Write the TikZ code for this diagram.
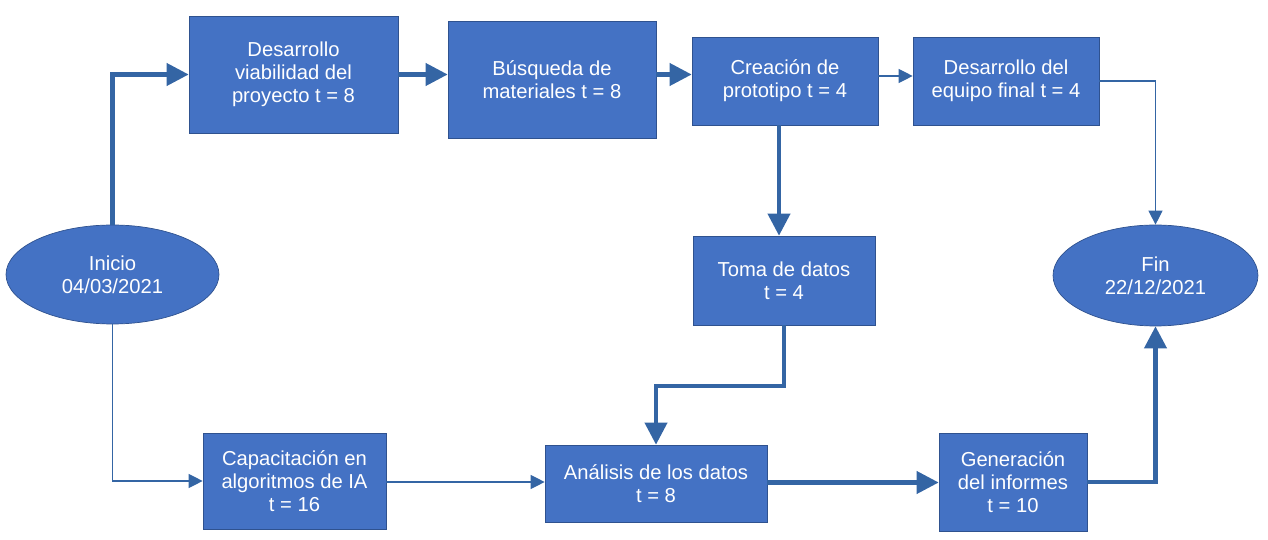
\documentclass[tikz,border=0pt]{standalone}
\usepackage{fontspec}
\setmainfont{Liberation Sans}
\usepackage{tikz}
\usetikzlibrary{shapes.geometric, arrows.meta}
\definecolor{boxfill}{HTML}{4472C4}
\definecolor{boxline}{HTML}{2F528F}
\definecolor{linkblue}{HTML}{3465A4}
\tikzstyle{startstop} = [ellipse, draw=boxline, fill=boxfill, text=white, align=center, inner sep=0pt, font=\fontsize{11.5}{13}\selectfont]
\tikzstyle{process} = [rectangle, draw=boxline, fill=boxfill, text=white, align=center, inner sep=0pt, font=\fontsize{11.5}{13}\selectfont]
\tikzstyle{thickarrow} = [line width=2.3pt, draw=linkblue, -{Triangle[length=0.44cm, width=0.44cm]}]
\tikzstyle{thinarrow} = [line width=0.7pt, draw=linkblue, -{Triangle[length=0.28cm, width=0.28cm]}]

\begin{document}
\begin{tikzpicture}[x=0.02cm, y=-0.02cm]
\useasboundingbox (0,0) rectangle (1268,540);

% Nodes
\node (inicio) [startstop, minimum width=4.26cm, minimum height=1.98cm] at (112.5,274.5) {Inicio\\04/03/2021};
\node (viab) [process, minimum width=4.18cm, minimum height=2.34cm] at (293.5,74.5) {Desarrollo\\viabilidad del\\proyecto t = 8};
\node (busq) [process, minimum width=4.16cm, minimum height=2.34cm] at (552,79.5) {Búsqueda de\\materiales t = 8};
\node (crea) [process, minimum width=3.72cm, minimum height=1.76cm] at (785,81) {Creación de\\prototipo t = 4};
\node (equipo) [process, minimum width=3.72cm, minimum height=1.76cm] at (1006,81) {Desarrollo del\\equipo final t = 4};
\node (toma) [process, minimum width=3.64cm, minimum height=1.78cm] at (784,280.5) {Toma de datos\\ t = 4};
\node (fin) [startstop, minimum width=4.10cm, minimum height=2.02cm] at (1155.5,275.5) {Fin\\22/12/2021};
\node (capac) [process, minimum width=3.66cm, minimum height=1.92cm] at (294.5,481) {Capacitación en\\algoritmos de IA\\t = 16};
\node (anal) [process, minimum width=4.44cm, minimum height=1.54cm] at (656,483.5) {Análisis de los datos\\t = 8};
\node (gen) [process, minimum width=2.96cm, minimum height=1.96cm] at (1013,482) {Generación\\del informes\\ t = 10};

% Arrows
\draw [thickarrow] (inicio.north) |- (viab.west);
\draw [thickarrow] (viab.east) -- (viab.east -| busq.west);
\draw [thickarrow] (viab.east -| busq.east) -- (viab.east -| crea.west);
\draw [thinarrow] (crea.east |- 0,76) -- (equipo.west |- 0,76);
\draw [thinarrow] (equipo.east) -| (fin.north);
\draw [thickarrow] (crea.south -| 779,0) -- (toma.north -| 779,0);
\draw [thickarrow] (toma.south) -- (toma.south |- 0,386) -| (anal.north);
\draw [thinarrow] (inicio.south) |- (capac.west);
\draw [thinarrow] (capac.east |- 0,482) -- (anal.west |- 0,482);
\draw [thickarrow] (anal.east |- 0,482.5) -- (gen.west |- 0,482.5);
\draw [thickarrow] (gen.east) -| (fin.south);

\end{tikzpicture}
\end{document}
